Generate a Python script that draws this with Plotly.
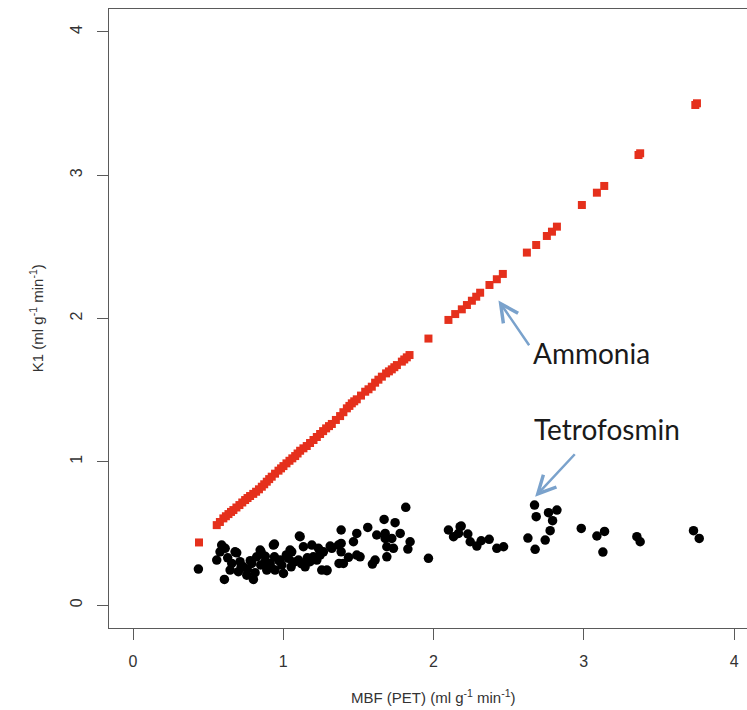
import plotly.graph_objects as go

# Ammonia (red squares): MBF (PET) vs K1
ammonia_x = [0.439, 0.557, 0.578, 0.601, 0.618, 0.635, 0.652, 0.668, 0.688, 0.708, 0.727, 0.746,
             0.762, 0.779, 0.800, 0.819, 0.838, 0.857, 0.873, 0.890, 0.906, 0.923, 0.945, 0.968,
             0.985, 1.001, 1.021, 1.041, 1.060, 1.079, 1.095, 1.112, 1.134, 1.156, 1.178, 1.201,
             1.223, 1.245, 1.265, 1.285, 1.304, 1.323, 1.350, 1.378, 1.400, 1.423, 1.440, 1.456,
             1.472, 1.489, 1.517, 1.545, 1.567, 1.589, 1.611, 1.633, 1.656, 1.684, 1.703, 1.722,
             1.739, 1.756, 1.789, 1.805, 1.822, 1.840,
             1.966,
             2.099, 2.144, 2.188, 2.222, 2.255, 2.284, 2.310,
             2.372, 2.421, 2.461,
             2.621, 2.683,
             2.754, 2.788, 2.821,
             2.987,
             3.087, 3.136,
             3.364, 3.375,
             3.742, 3.753]
ammonia_y = [0.437, 0.558, 0.580, 0.605, 0.620, 0.635, 0.650, 0.663, 0.681, 0.698, 0.716, 0.733,
             0.747, 0.761, 0.776, 0.791, 0.808, 0.826, 0.843, 0.861, 0.879, 0.896, 0.917, 0.938,
             0.954, 0.970, 0.989, 1.007, 1.024, 1.040, 1.058, 1.077, 1.094, 1.110, 1.131, 1.152,
             1.173, 1.194, 1.214, 1.233, 1.249, 1.264, 1.292, 1.319, 1.346, 1.373, 1.390, 1.408,
             1.422, 1.436, 1.462, 1.489, 1.506, 1.524, 1.552, 1.573, 1.594, 1.617, 1.631, 1.645,
             1.660, 1.675, 1.699, 1.714, 1.729, 1.745,
             1.860,
             1.990, 2.031, 2.064, 2.094, 2.124, 2.152, 2.180,
             2.234, 2.274, 2.311,
             2.460, 2.513,
             2.576, 2.606, 2.641,
             2.792,
             2.878, 2.925,
             3.141, 3.153,
             3.490, 3.502]

# Tetrofosmin (black circles)
tetro_x = [0.435, 0.608, 0.590, 0.613, 0.579, 0.557, 0.690, 0.657, 0.646, 0.712, 0.701, 0.734,
           0.757, 0.801, 0.812, 0.790, 0.823, 0.852, 0.879, 0.890, 0.934, 0.941, 0.945, 0.990,
           1.001, 1.034, 1.056, 1.052, 1.101, 1.112, 1.134, 1.145, 1.190, 1.200, 1.178, 1.245,
           1.256, 0.679, 0.846, 0.941, 1.107, 0.979, 1.045, 0.912, 1.290, 1.400, 1.323, 1.367,
           0.720, 0.760, 0.850, 0.920, 0.970, 1.070, 1.120, 1.160, 0.880, 0.780, 0.630, 1.020,
           1.815, 1.671, 1.744, 1.562, 1.489, 1.385, 1.622, 1.678, 1.778, 1.722, 1.678, 1.844,
           1.689, 1.733, 1.829, 1.467, 1.385, 1.312, 1.385, 1.434, 1.489, 1.511, 1.689, 1.611,
           1.593, 1.371, 1.290, 1.966, 1.245, 1.223, 1.267, 1.234, 2.099, 2.133, 2.177,
           2.672, 2.683, 2.765, 2.821, 2.792, 2.776, 2.743, 2.628, 2.676, 2.983, 3.087, 3.138,
           3.127, 3.353, 3.375, 3.730, 3.768, 2.184, 2.166, 2.228, 2.244, 2.288, 2.317, 2.370,
           2.421, 2.466]
tetro_y = [0.251, 0.179, 0.419, 0.396, 0.372, 0.314, 0.365, 0.291, 0.244, 0.303, 0.233, 0.267,
           0.209, 0.179, 0.226, 0.291, 0.337, 0.372, 0.303, 0.244, 0.419, 0.337, 0.244, 0.279,
           0.221, 0.326, 0.372, 0.267, 0.314, 0.477, 0.407, 0.267, 0.419, 0.337, 0.303, 0.361,
           0.244, 0.372, 0.384, 0.426, 0.482, 0.314, 0.384, 0.291, 0.244, 0.291, 0.396, 0.419,
           0.270, 0.250, 0.280, 0.260, 0.310, 0.300, 0.290, 0.330, 0.340, 0.310, 0.330, 0.350,
           0.682, 0.598, 0.575, 0.542, 0.500, 0.524, 0.489, 0.500, 0.500, 0.465, 0.465, 0.442,
           0.407, 0.396, 0.391, 0.442, 0.430, 0.412, 0.372, 0.333, 0.349, 0.337, 0.337, 0.314,
           0.286, 0.291, 0.240, 0.326, 0.349, 0.314, 0.372, 0.396, 0.524, 0.477, 0.547,
           0.698, 0.617, 0.645, 0.663, 0.589, 0.519, 0.454, 0.468, 0.389, 0.535, 0.482, 0.514,
           0.370, 0.477, 0.442, 0.519, 0.465, 0.551, 0.500, 0.496, 0.442, 0.412, 0.449, 0.459,
           0.396, 0.407]

tick_vals = [0, 1, 2, 3, 4]
tick_text = ["0", "1", "2", "3", "4"]

AXIS_COLOR = "#5a5a5a"
TEXT_COLOR = "#333333"
ARROW_COLOR = "#7aa2cc"

fig = go.Figure()
fig.add_trace(go.Scatter(
    x=ammonia_x, y=ammonia_y, mode="markers", name="Ammonia",
    marker=dict(symbol="square", size=8, color="#e5301c", line=dict(width=0)),
))
fig.add_trace(go.Scatter(
    x=tetro_x, y=tetro_y, mode="markers", name="Tetrofosmin",
    marker=dict(symbol="circle", size=9.5, color="#000000", line=dict(width=0)),
))

tick_font = dict(family="Liberation Sans, Arial, sans-serif", size=16, color=TEXT_COLOR)

fig.update_xaxes(
    range=[-0.16, 4.086], tickvals=tick_vals, ticktext=tick_text,
    showgrid=False, zeroline=False,
    showline=True, linecolor=AXIS_COLOR, linewidth=1.3, mirror=True,
    ticks="outside", ticklen=11, tickwidth=1.3, tickcolor=AXIS_COLOR,
    tickfont=tick_font, ticklabelstandoff=8,
)
fig.update_yaxes(
    range=[-0.16, 4.16], tickvals=tick_vals, ticktext=tick_text,
    showgrid=False, zeroline=False,
    showline=True, linecolor=AXIS_COLOR, linewidth=1.3,
    ticks="outside", ticklen=11, tickwidth=1.3, tickcolor=AXIS_COLOR,
    tickfont=tick_font, tickangle=-90, ticklabelstandoff=8,
)

title_font = dict(family="Liberation Sans, Arial, sans-serif", size=15, color=TEXT_COLOR)
label_font = dict(family="Lato, 'Open Sans', sans-serif", size=28, color="#1a1a1a")

annotations = [
    dict(text="MBF (PET) (ml g<sup>-1</sup> min<sup>-1</sup>)", xref="paper", yref="paper",
         x=0.508, y=-0.110, xanchor="center", yanchor="middle", showarrow=False, font=title_font),
    dict(text="K1 (ml g<sup>-1</sup> min<sup>-1</sup>)", xref="paper", yref="paper",
         x=-0.1134, y=0.50, xanchor="center", yanchor="middle", textangle=-90,
         showarrow=False, font=title_font),
    dict(text="Ammonia", x=2.648, y=1.759, xref="x", yref="y", xanchor="left", yanchor="middle",
         showarrow=False, font=label_font),
    dict(text="Tetrofosmin", x=2.654, y=1.229, xref="x", yref="y", xanchor="left", yanchor="middle",
         showarrow=False, font=label_font),
    dict(text="", x=2.432, y=2.126, ax=2.643, ay=1.803, xref="x", yref="y", axref="x", ayref="y",
         showarrow=True, arrowhead=5, arrowsize=1.4, arrowwidth=2.5, arrowcolor=ARROW_COLOR),
    dict(text="", x=2.676, y=0.756, ax=2.949, ay=1.063, xref="x", yref="y", axref="x", ayref="y",
         showarrow=True, arrowhead=5, arrowsize=1.4, arrowwidth=2.5, arrowcolor=ARROW_COLOR),
]

fig.update_layout(
    width=747, height=710,
    margin=dict(l=109, r=0, t=9, b=82),
    plot_bgcolor="white", paper_bgcolor="white",
    showlegend=False,
    annotations=annotations,
)

fig.write_html("out.html", config={"displayModeBar": False})
